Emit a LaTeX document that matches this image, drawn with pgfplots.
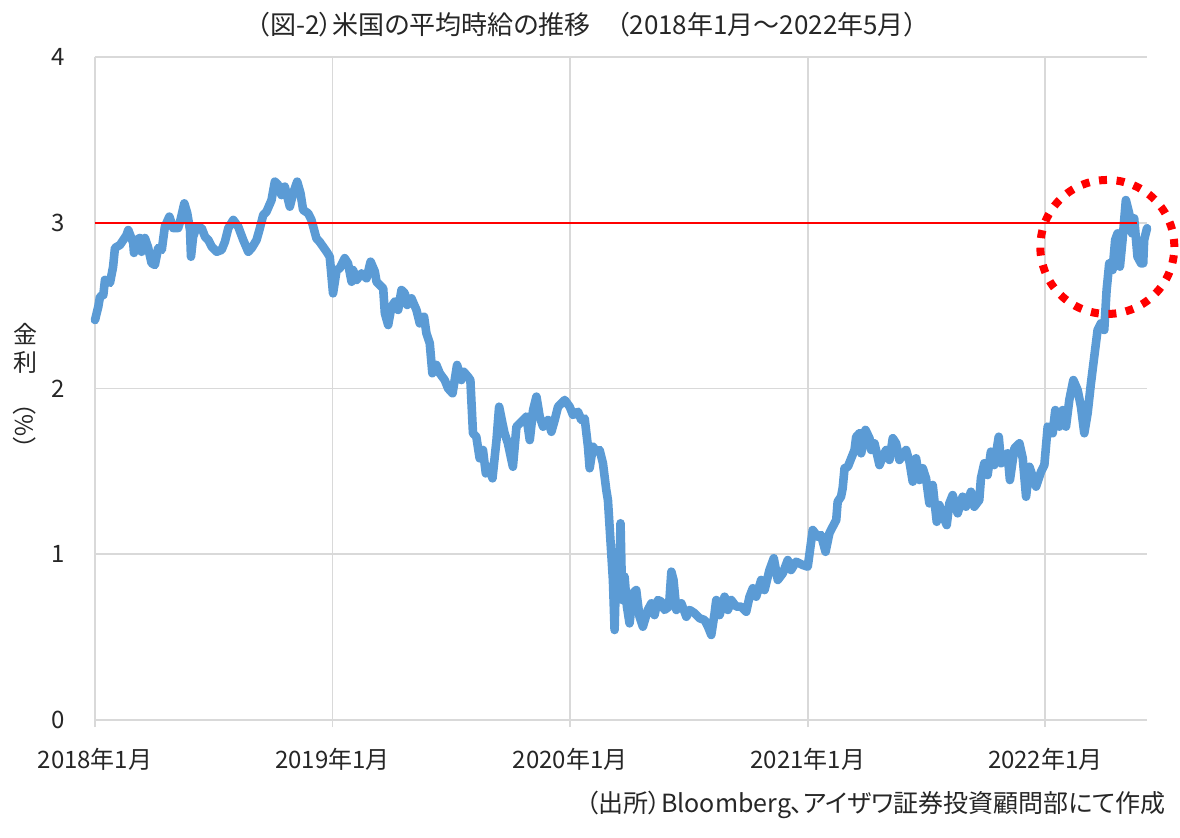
\documentclass[border=0pt]{standalone}
\usepackage{fontspec}
\setmainfont{Noto Sans CJK JP}[RawFeature=+palt]
\usepackage{pgfplots}
\pgfplotsset{compat=1.18}
\definecolor{gridgray}{HTML}{D9D9D9}
\definecolor{lineblue}{HTML}{5B9BD5}
\begin{document}
\begin{tikzpicture}
\path[use as bounding box] (-47.5pt,-58.5pt) rectangle (542.5pt,360pt);
\begin{axis}[
  at={(0pt,0pt)}, anchor=south west,
  scale only axis, width=526pt, height=331.5pt,
  xmin=0, xmax=4.428, ymin=0, ymax=4,
  axis x line*=bottom, axis y line*=left,
  axis line style={draw=gridgray, line width=0.9pt, -},
  xtick={0,1,2,3,4},
  xticklabels={2018年1月,2019年1月,2020年1月,2021年1月,2022年1月},
  ytick={0,1,2,3,4},
  grid=major,
  major grid style={draw=gridgray, line width=0.9pt},
  tick align=outside,
  major tick length=3.5pt,
  xtick style={draw=gridgray, line width=0.9pt},
  ytick style={draw=none},
  /pgf/number format/assume math mode=true,
  tick label style={font=\fontsize{12pt}{14pt}\selectfont, text=black!85},
  xticklabel style={yshift=-7pt},
  yticklabel style={xshift=-8pt},
  clip=false,
]
\addplot[lineblue, line width=4.3pt, line join=round, line cap=round] table {
x y
0.000 2.413
0.014 2.494
0.021 2.554
0.035 2.564
0.042 2.655
0.063 2.637
0.076 2.733
0.084 2.848
0.105 2.866
0.133 2.926
0.140 2.956
0.161 2.878
0.164 2.818
0.175 2.896
0.189 2.908
0.196 2.825
0.210 2.908
0.223 2.854
0.238 2.757
0.252 2.745
0.266 2.848
0.281 2.836
0.294 2.976
0.313 3.037
0.329 2.968
0.350 2.968
0.358 3.006
0.376 3.117
0.388 3.059
0.400 2.956
0.404 2.795
0.413 2.916
0.428 2.976
0.449 2.968
0.463 2.916
0.477 2.896
0.491 2.856
0.512 2.825
0.533 2.836
0.547 2.886
0.561 2.967
0.582 3.017
0.603 2.976
0.624 2.896
0.645 2.825
0.659 2.846
0.680 2.896
0.694 2.967
0.708 3.047
0.722 3.067
0.743 3.137
0.757 3.248
0.771 3.228
0.785 3.167
0.799 3.218
0.820 3.097
0.834 3.178
0.851 3.248
0.865 3.178
0.876 3.077
0.897 3.057
0.911 3.017
0.932 2.906
0.946 2.884
0.975 2.825
0.988 2.795
1.002 2.574
1.017 2.715
1.030 2.725
1.051 2.786
1.065 2.755
1.080 2.644
1.086 2.715
1.101 2.655
1.122 2.695
1.143 2.665
1.160 2.765
1.178 2.705
1.185 2.644
1.213 2.604
1.220 2.454
1.234 2.383
1.248 2.494
1.262 2.524
1.276 2.474
1.290 2.594
1.304 2.574
1.314 2.504
1.332 2.544
1.353 2.474
1.367 2.393
1.385 2.433
1.395 2.333
1.409 2.273
1.420 2.092
1.437 2.142
1.451 2.092
1.472 2.051
1.486 2.001
1.505 1.971
1.514 2.051
1.524 2.142
1.542 2.051
1.552 2.101
1.570 2.071
1.580 2.051
1.591 1.730
1.605 1.709
1.619 1.579
1.633 1.629
1.645 1.488
1.661 1.528
1.673 1.458
1.690 1.689
1.701 1.890
1.715 1.790
1.724 1.730
1.738 1.669
1.759 1.528
1.774 1.770
1.795 1.800
1.816 1.830
1.830 1.689
1.844 1.870
1.858 1.951
1.872 1.830
1.886 1.770
1.907 1.810
1.921 1.739
1.935 1.810
1.949 1.890
1.977 1.931
1.998 1.890
2.012 1.840
2.033 1.860
2.047 1.810
2.061 1.820
2.075 1.649
2.082 1.519
2.096 1.649
2.110 1.619
2.124 1.629
2.138 1.549
2.152 1.388
2.159 1.327
2.166 1.166
2.173 1.006
2.180 0.845
2.187 0.543
2.194 0.925
2.205 0.764
2.212 1.187
2.219 0.724
2.229 0.865
2.239 0.684
2.250 0.583
2.264 0.764
2.278 0.784
2.292 0.623
2.306 0.563
2.327 0.664
2.342 0.704
2.355 0.633
2.369 0.724
2.384 0.714
2.397 0.664
2.416 0.684
2.426 0.895
2.435 0.845
2.447 0.664
2.468 0.704
2.489 0.623
2.503 0.664
2.524 0.644
2.545 0.614
2.566 0.603
2.580 0.563
2.594 0.513
2.608 0.644
2.615 0.724
2.629 0.633
2.650 0.744
2.664 0.664
2.678 0.724
2.699 0.684
2.720 0.684
2.741 0.653
2.755 0.744
2.769 0.795
2.783 0.744
2.804 0.845
2.818 0.784
2.839 0.905
2.857 0.976
2.874 0.845
2.895 0.885
2.916 0.965
2.930 0.905
2.951 0.955
2.979 0.935
3.000 0.925
3.021 1.146
3.042 1.106
3.056 1.116
3.075 1.015
3.091 1.126
3.105 1.166
3.120 1.207
3.126 1.317
3.140 1.347
3.147 1.398
3.155 1.519
3.169 1.528
3.183 1.579
3.197 1.629
3.204 1.709
3.218 1.730
3.225 1.609
3.243 1.750
3.260 1.700
3.267 1.629
3.281 1.669
3.302 1.538
3.316 1.589
3.330 1.629
3.344 1.569
3.358 1.700
3.372 1.669
3.386 1.569
3.400 1.599
3.414 1.629
3.428 1.559
3.442 1.438
3.456 1.579
3.470 1.448
3.484 1.519
3.498 1.458
3.512 1.307
3.526 1.418
3.543 1.196
3.554 1.297
3.568 1.237
3.585 1.176
3.596 1.307
3.610 1.357
3.631 1.247
3.652 1.347
3.666 1.287
3.687 1.377
3.701 1.287
3.722 1.327
3.729 1.458
3.743 1.549
3.757 1.478
3.771 1.619
3.785 1.538
3.804 1.709
3.814 1.549
3.828 1.569
3.841 1.609
3.851 1.448
3.870 1.639
3.891 1.669
3.905 1.579
3.919 1.347
3.933 1.528
3.947 1.468
3.961 1.408
3.982 1.498
3.996 1.538
4.010 1.770
4.031 1.730
4.042 1.870
4.059 1.770
4.073 1.870
4.087 1.770
4.101 1.931
4.118 2.051
4.136 1.991
4.150 1.890
4.164 1.730
4.178 1.850
4.192 2.031
4.206 2.192
4.220 2.353
4.234 2.393
4.248 2.353
4.258 2.594
4.269 2.755
4.283 2.715
4.294 2.896
4.304 2.936
4.314 2.735
4.325 2.896
4.339 3.137
4.353 3.057
4.365 2.936
4.374 3.027
4.388 2.795
4.403 2.755
4.412 2.755
4.416 2.896
4.428 2.967
};
\addplot[red, line width=1pt] coordinates {(0,3) (4.385,3)};
\draw[red, line width=4pt, dash pattern=on 4pt off 4.8pt] (axis cs:4.261,2.854) circle [radius=33.5pt];
\end{axis}
\node[font=\fontsize{13pt}{15pt}\selectfont, text=black!85] at (246pt,347.5pt) {（図-2）米国の平均時給の推移　（2018年1月～2022年5月）};
\node[font=\fontsize{12pt}{14pt}\selectfont, text=black!85] at (-35pt,193pt) {金};
\node[font=\fontsize{12pt}{14pt}\selectfont, text=black!85] at (-35pt,179pt) {利};
\node[font=\fontsize{12pt}{14pt}\selectfont, text=black!85, rotate=-90] at (-35pt,147pt) {（\%）};
\node[font=\fontsize{12.5pt}{14pt}\selectfont, text=black!85, anchor=east] at (539pt,-42.5pt) {（出所）Bloomberg、アイザワ証券投資顧問部にて作成};
\end{tikzpicture}
\end{document}
